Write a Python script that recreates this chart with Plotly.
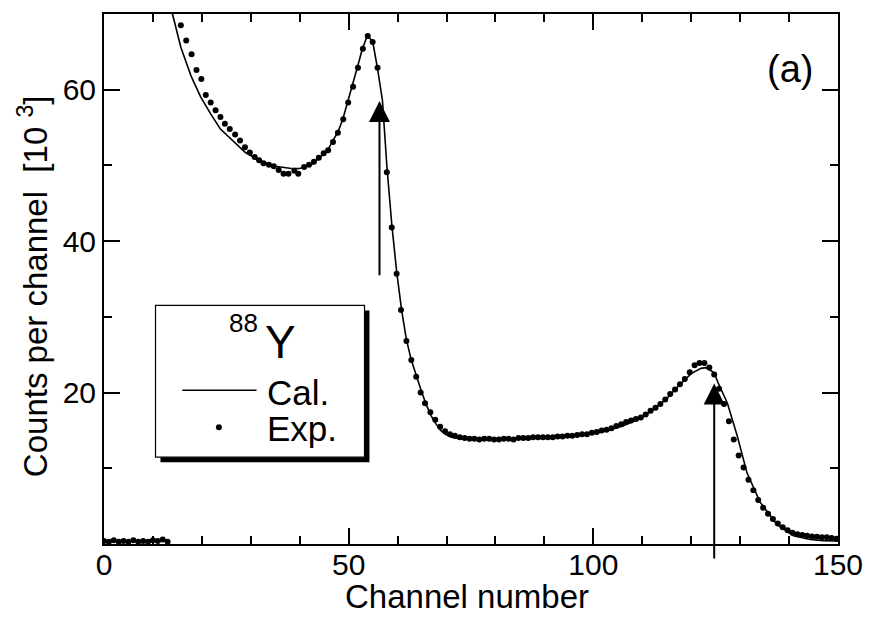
import plotly.graph_objects as go

# ---------------- data ----------------
exp_channel = [0, 1, 2, 3, 4, 5, 6, 7, 8, 9, 10, 11, 12, 13,
               15.7, 16.8, 17.9, 18.9, 19.9, 20.8, 21.8, 22.8, 23.8, 24.7,
               25.7, 26.8, 27.8, 28.8, 29.8, 30.8, 31.7, 32.6, 33.7, 34.7,
               35.7, 36.7, 37.7, 38.9, 39.7, 40.9, 41.9, 42.9, 43.9, 44.9,
               45.8, 46.8, 47.8, 48.9, 49.9, 50.9, 51.9, 52.9, 53.9, 54.9,
               55.9, 56.8, 57.8, 58.8, 59.8, 60.7, 61.8, 62.8, 63.8, 64.7,
               65.6, 66.7, 67.7, 68.7, 69.7, 70.7, 71.7, 72.7, 73.7, 74.7,
               75.7, 76.7, 77.7, 78.7, 79.7, 80.7, 81.7, 82.7, 83.7, 84.7,
               85.7, 86.7, 87.7, 88.7, 89.7, 90.7, 91.7, 92.7, 93.7, 94.7,
               95.7, 96.7, 97.7, 98.7, 99.7, 100.7, 101.7, 102.7, 103.7, 104.7,
               105.7, 106.7, 107.7, 108.7, 109.7, 110.7, 111.7, 112.7, 113.7, 114.7,
               115.7, 116.7, 117.7, 118.7, 119.7, 120.7, 121.7, 122.7, 123.7, 124.7,
               125.7, 126.7, 127.7, 128.7, 129.7, 130.7, 131.7, 132.7, 133.7, 134.7,
               135.7, 136.7, 137.7, 138.7, 139.7, 140.7, 141.7, 142.7, 143.7, 144.7,
               145.7, 146.7, 147.7, 148.7, 149.7]
exp_counts = [0.4, 0.3, 0.5, 0.3, 0.4, 0.3, 0.5, 0.3, 0.4, 0.3, 0.5, 0.4, 0.6, 0.3,
              68.5, 66.5, 64.7, 62.6, 61.4, 59.3, 58.3, 57.3, 56.4, 55.5,
              54.8, 54.1, 53.3, 52.4, 51.7, 51.1, 50.7, 50.3, 50.1, 49.9,
              49.4, 48.9, 48.9, 49.3, 48.9, 49.8, 50.1, 50.5, 51.0, 51.6,
              52.0, 53.1, 54.3, 56.1, 58.3, 60.4, 62.9, 65.4, 67.1, 66.3,
              62.9, 56.5, 49.1, 41.8, 35.7, 30.9, 26.8, 24.3, 22.1, 20.0,
              18.6, 17.4, 16.4, 15.5, 14.9, 14.5, 14.3, 14.1, 14.0, 13.9,
              13.9, 13.8, 13.9, 13.9, 13.8, 13.8, 13.9, 13.9, 13.8, 14.0,
              14.0, 14.0, 14.1, 14.1, 14.1, 14.1, 14.1, 14.2, 14.2, 14.3,
              14.3, 14.4, 14.5, 14.5, 14.7, 14.8, 15.0, 15.1, 15.3, 15.6,
              15.8, 16.1, 16.3, 16.5, 16.7, 17.1, 17.6, 18.0, 18.5, 19.1,
              19.8, 20.4, 21.1, 21.8, 22.7, 23.6, 23.9, 23.9, 23.3, 22.4,
              20.5, 18.5, 16.2, 13.8, 11.7, 10.1, 8.5, 7.1, 5.8, 4.8,
              4.0, 3.3, 2.7, 2.2, 1.8, 1.5, 1.3, 1.2, 1.1, 1.0,
              0.95, 0.9, 0.9, 0.8, 0.7]

cal_channel = [13.6, 14.0, 15.7, 17.8, 19.8, 21.8, 23.8, 26.2, 28.9, 31.6,
               35.0, 38.3, 40.0, 42.7, 45.7, 46.8, 47.8, 48.8, 49.8, 50.8,
               51.8, 52.8, 53.8, 54.9, 55.9, 56.9, 57.8, 58.8, 59.8, 60.8,
               61.8, 62.8, 63.8, 64.8, 65.8, 66.8, 67.8, 68.8, 69.8, 71.0,
               72.8, 75.0, 80.0, 85.0, 90.0, 95.0, 100.0, 103.0, 106.0, 109.0,
               112.0, 115.0, 117.3, 120.0, 122.0, 123.0, 124.7, 125.5, 127.4, 129.4,
               131.4, 134.1, 137.5, 140.9, 144.3, 147.0, 150.0]
cal_counts = [72.0, 70.0, 65.6, 61.8, 59.0, 56.8, 54.8, 53.3, 51.7, 50.7,
              49.9, 49.6, 49.6, 50.2, 52.0, 53.3, 54.4, 56.1, 58.3, 60.5,
              63.0, 65.4, 67.1, 66.4, 62.8, 58.6, 50.0, 42.3, 36.0, 31.0,
              27.0, 24.3, 22.2, 20.3, 18.5, 17.0, 15.9, 15.0, 14.5, 14.1,
              13.9, 13.8, 13.8, 13.9, 14.0, 14.2, 14.6, 15.0, 15.6, 16.4,
              17.6, 19.2, 20.8, 22.5, 23.2, 23.3, 22.6, 21.3, 18.6, 14.3,
              9.4, 5.5, 2.6, 1.1, 0.6, 0.45, 0.4]

# arrows: channel, tip value, tail value
arrow_channel = [56.3, 124.7]
arrow_tip = [58.5, 21.2]
arrow_tail = [35.3, -2.1]

x_ticks = [0, 50, 100, 150]
y_ticks = [20, 40, 60]
y_minor = [10, 30, 50]

FONT = "Liberation Sans, Arial, sans-serif"

# plot-area pixel frame
L, R, T, B = 104, 845, 13, 544
W, H = R - L, B - T


def px(x):
    return (x - L) / W


def py(y):
    return (B - y) / H


fig = go.Figure()
fig.add_trace(go.Scatter(x=cal_channel, y=cal_counts, mode="lines",
                         line=dict(color="black", width=1.6),
                         showlegend=False, hoverinfo="skip"))
fig.add_trace(go.Scatter(x=exp_channel, y=exp_counts, mode="markers",
                         marker=dict(color="black", size=6),
                         showlegend=False, hoverinfo="skip"))

axis_common = dict(showgrid=False, zeroline=False, showline=True,
                   linecolor="black", linewidth=2, mirror="ticks",
                   ticks="inside", ticklen=16, tickwidth=2, tickcolor="black",
                   tickfont=dict(family=FONT, size=30, color="black"))

fig.update_xaxes(range=[0, 150], tickvals=x_ticks, ticklabelstandoff=-7,
                 minor=dict(dtick=10, tick0=0, ticks="inside", ticklen=8,
                            tickwidth=2, tickcolor="black"),
                 **axis_common)
fig.update_yaxes(range=[0, 70], tickvals=y_ticks,
                 minor=dict(tickvals=y_minor, ticks="inside", ticklen=8,
                            tickwidth=2, tickcolor="black"),
                 **axis_common)

shapes = [
    # legend shadow and box
    dict(type="rect", xref="paper", yref="paper",
         x0=px(161), x1=px(372), y0=py(462), y1=py(310),
         fillcolor="black", line=dict(width=0)),
    dict(type="rect", xref="paper", yref="paper",
         x0=px(156), x1=px(367), y0=py(457), y1=py(305),
         fillcolor="white", line=dict(color="black", width=1.2)),
    dict(type="line", xref="paper", yref="paper",
         x0=px(183), x1=px(258), y0=py(390), y1=py(390),
         line=dict(color="black", width=1.5)),
    dict(type="circle", xref="paper", yref="paper",
         x0=px(217), x1=px(223), y0=py(430), y1=py(424),
         fillcolor="black", line=dict(width=0)),
]

annotations = []
for xc, tip, tail in zip(arrow_channel, arrow_tip, arrow_tail):
    annotations.append(dict(x=xc, y=tip, ax=xc, ay=tail, xref="x", yref="y",
                            axref="x", ayref="y", text="", showarrow=True,
                            arrowhead=2, arrowsize=2.1, arrowwidth=2,
                            arrowcolor="black", standoff=0))


def label(xp, yp, text, size, xanchor="center", angle=0):
    return dict(x=px(xp), y=py(yp), xref="paper", yref="paper", text=text,
                xanchor=xanchor, yanchor="middle", textangle=angle,
                showarrow=False, font=dict(family=FONT, size=size, color="black"))


annotations += [
    label(797, 68, "(a)", 38),
    label(245, 323, "88", 26),
    label(282, 342, "Y", 46),
    label(267, 392, "Cal.", 35, xanchor="left"),
    label(267, 428, "Exp.", 35, xanchor="left"),
    label(470, 597, "Channel number", 33),
    label(33, 286, "Counts per channel  [10 <sup>3</sup>]", 33, angle=-90),
]

fig.update_layout(width=875, height=618,
                  margin=dict(l=L, r=875 - R, t=T, b=618 - B),
                  paper_bgcolor="white", plot_bgcolor="white",
                  shapes=shapes, annotations=annotations)

fig.write_html("out.html", config={"displayModeBar": False},
               post_script="document.body.style.margin='0';"
                           "document.body.style.overflow='hidden';")
